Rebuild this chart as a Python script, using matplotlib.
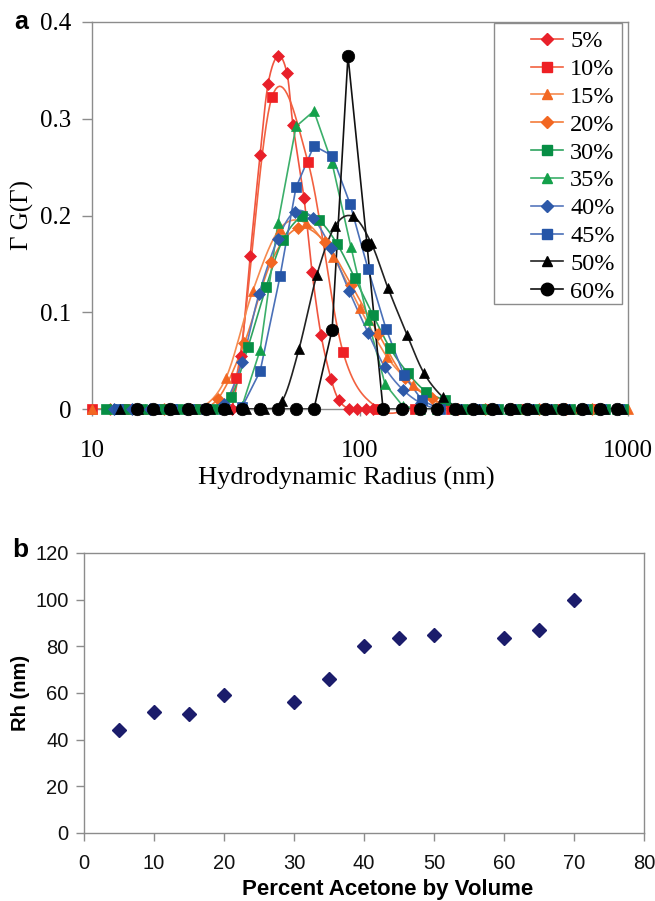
import numpy as np
import matplotlib
matplotlib.use("Agg")
import matplotlib.pyplot as plt
from matplotlib.lines import Line2D
from matplotlib.patches import Rectangle
from matplotlib.ticker import FixedLocator, NullLocator

# ---- panel a: size distributions, Gamma G(Gamma) vs hydrodynamic radius (nm)
labels_a = ['5%', '10%', '15%', '20%', '30%', '35%', '40%', '45%', '50%', '60%']

r5 = [33.3, 36.0, 38.9, 42.4, 45.4, 49.4, 53.4, 56.2, 61.8, 66.2, 71.5, 78.0, 83.5, 91.0, 97.5, 105.3, 111.8]
v5 = [0, 0.055, 0.158, 0.263, 0.336, 0.365, 0.347, 0.294, 0.218, 0.142, 0.077, 0.031, 0.009, 0, 0, 0, 0]

r10 = [10, 13.6, 18.6, 25.3, 34.5, 46.9, 64.0, 86.4, 117.7, 160.3, 218.6, 297.8, 405.5, 552.6, 753]
v10 = [0, 0, 0, 0, 0.032, 0.322, 0.255, 0.059, 0, 0, 0, 0, 0, 0, 0]

r15 = [10, 12.6, 15.8, 20.0, 25.1, 31.6, 39.8, 50.1, 63.1, 79.4, 100, 126, 158, 200, 251, 316, 398, 501, 631, 794, 1000]
v15 = [0, 0, 0, 0, 0, 0.032, 0.122, 0.186, 0.192, 0.157, 0.104, 0.054, 0.025, 0.005, 0, 0, 0, 0, 0, 0, 0]

r20 = [11.7, 14.7, 18.5, 23.3, 29.4, 37.0, 46.6, 58.6, 73.8, 92.9, 117, 147, 185, 233, 293, 369, 465, 585, 737, 928]
v20 = [0, 0, 0, 0, 0.010, 0.068, 0.152, 0.187, 0.173, 0.128, 0.078, 0.032, 0.011, 0, 0, 0, 0, 0, 0, 0]

r30 = [11.3, 13.2, 15.4, 17.9, 20.9, 24.3, 28.3, 33.0, 38.2, 44.6, 51.6, 60.8, 70.3, 82.0, 95.8, 111.8,
       129.4, 151.0, 176.3, 207.5, 242, 282, 328, 383, 446, 520, 606, 706, 823, 959]
v30 = [0, 0, 0, 0, 0, 0, 0, 0.012, 0.064, 0.126, 0.175, 0.199, 0.195, 0.171, 0.135, 0.097,
       0.063, 0.037, 0.018, 0.009, 0, 0, 0, 0, 0, 0, 0, 0, 0, 0]

r35 = [12.3, 14.3, 16.7, 19.5, 22.9, 26.6, 31.1, 36.3, 42.4, 49.4, 57.7, 67.3, 78.7, 92.6, 107.1,
       123.9, 144.5, 167.5, 194, 226, 264, 308, 360, 420, 490, 572, 669, 781, 911]
v35 = [0, 0, 0, 0, 0, 0, 0, 0.003, 0.061, 0.192, 0.292, 0.308, 0.254, 0.167, 0.092,
       0.026, 0.003, 0, 0, 0, 0, 0, 0, 0, 0, 0, 0, 0, 0]

r40 = [12.1, 14.1, 16.5, 19.3, 22.6, 26.6, 31.1, 36.3, 42.0, 49.4, 57.2, 66.8, 78.0, 91.0, 107.1,
       123.9, 144.5, 168.9, 197, 230, 268, 313, 365, 426, 497, 580, 677, 790, 922]
v40 = [0, 0, 0, 0, 0, 0, 0.005, 0.049, 0.119, 0.176, 0.204, 0.197, 0.166, 0.122, 0.079,
       0.043, 0.020, 0.006, 0, 0, 0, 0, 0, 0, 0, 0, 0, 0, 0]

r45 = [12.5, 14.6, 17.0, 19.8, 23.1, 26.6, 31.1, 36.3, 42.4, 50.3, 57.7, 67.3, 78.7, 91.8, 107.1,
       125.0, 145.9, 170.3, 198, 231, 270, 315, 367, 428, 500, 583, 680, 793, 925]
v45 = [0, 0, 0, 0, 0, 0, 0, 0.002, 0.039, 0.137, 0.229, 0.272, 0.262, 0.212, 0.145,
       0.083, 0.035, 0.009, 0, 0, 0, 0, 0, 0, 0, 0, 0, 0, 0]

r50 = [12.7, 14.8, 17.3, 20.2, 23.6, 27.6, 32.3, 37.6, 43.8, 51.2, 59.2, 69.1, 80.7, 94.2, 109.9,
       127.2, 149.7, 173.3, 204.1, 238.2, 278, 324, 378, 441, 514, 600, 700, 816, 952]
v50 = [0, 0, 0, 0, 0, 0, 0, 0, 0, 0.008, 0.062, 0.139, 0.189, 0.199, 0.172,
       0.125, 0.077, 0.037, 0.012, 0, 0, 0, 0, 0, 0, 0, 0, 0, 0]

r60 = [14.7, 16.9, 19.5, 22.9, 26.6, 31.1, 36.3, 42.4, 49.4, 57.7, 67.3, 78.7, 90.2, 106.2,
       121.9, 143.5, 167.5, 193.6, 226.1, 264.1, 310.8, 362.9, 419.8, 490.0, 572.3, 673.2, 786.3, 909.7]
v60 = [0, 0, 0, 0, 0, 0, 0, 0, 0, 0, 0, 0.082, 0.365, 0.170,
       0, 0, 0, 0, 0, 0, 0, 0, 0, 0, 0, 0, 0, 0]

# ---- panel b: Rh vs percent acetone
acetone = [5, 10, 15, 20, 30, 35, 40, 45, 50, 60, 65, 70]
rh = [44, 52, 51, 59, 56, 66, 80, 83.5, 85, 83.5, 87, 100]

radii = [r5, r10, r15, r20, r30, r35, r40, r45, r50, r60]
values = [v5, v10, v15, v20, v30, v35, v40, v45, v50, v60]
markers = ['D', 's', '^', 'D', 's', '^', 'D', 's', '^', 'o']
msizes = [6.2, 6.8, 7.8, 6.2, 6.8, 7.8, 6.2, 6.8, 7.8, 9.0]
mcolors = ['#E8202A', '#EE2024', '#F26722', '#F26722', '#078E45', '#13A04A',
           '#2D59A9', '#2555A7', '#000000', '#000000']
lcolors = ['#F0553F', '#F26140', '#F58A4F', '#F47B3A', '#2EA35F', '#3BAF6A',
           '#5677BC', '#4A70B8', '#222222', '#111111']
smoothed = [True, True, True, True, True, False, True, False, True, False]


def catmull(x, y, n=20):
    # Excel style smoothed line, done in log-x space
    p = np.column_stack([np.log10(x), y])
    p = np.vstack([p[0], p, p[-1]])
    out = []
    t = np.linspace(0, 1, n)[:, None]
    for i in range(1, len(p) - 2):
        p0, p1, p2, p3 = p[i - 1], p[i], p[i + 1], p[i + 2]
        m1 = (p2 - p0) / 2
        m2 = (p3 - p1) / 2
        h = ((2 * t**3 - 3 * t**2 + 1) * p1 + (t**3 - 2 * t**2 + t) * m1
             + (-2 * t**3 + 3 * t**2) * p2 + (t**3 - t**2) * m2)
        out.append(h)
    c = np.vstack(out)
    return 10 ** c[:, 0], c[:, 1]


serif = 'Liberation Serif'
sans = 'Liberation Sans'
W, H = 655, 901
fig = plt.figure(figsize=(W / 100, H / 100), dpi=100)

# panel a axes
ax = fig.add_axes([92 / W, 1 - 409 / H, (628 - 92) / W, (409 - 22) / H])
handles = []
for r, v, mk, ms, mc, lc, sm in zip(radii, values, markers, msizes, mcolors, lcolors, smoothed):
    if sm:
        xs, ys = catmull(r, v)
    else:
        xs, ys = r, v
    ax.plot(xs, ys, color=lc, lw=1.2, zorder=2, clip_on=False)
    ax.plot(r, v, ls='none', marker=mk, ms=ms, mfc=mc, mec=mc, mew=0.5, zorder=3, clip_on=False)
    handles.append(Line2D([], [], color=lc, lw=1.2, marker=mk, ms=ms, mfc=mc, mec=mc))

ax.set_xscale('log')
ax.set_xlim(10, 1000)
ax.set_ylim(0, 0.4)
ax.xaxis.set_major_locator(FixedLocator([10, 100, 1000]))
ax.xaxis.set_minor_locator(NullLocator())
ax.set_xticklabels(['10', '100', '1000'])
ax.set_yticks([0, 0.1, 0.2, 0.3, 0.4])
ax.set_yticklabels(['0', '0.1', '0.2', '0.3', '0.4'])
for s in ax.spines.values():
    s.set_color('#8c8c8c')
    s.set_linewidth(1.0)
ax.tick_params(axis='y', direction='out', length=7, width=1, color='#8c8c8c', pad=8,
               labelsize=18)
ax.tick_params(axis='x', direction='out', length=5, width=1, color='#8c8c8c', pad=17,
               labelsize=18)
for lab in ax.get_xticklabels() + ax.get_yticklabels():
    lab.set_fontfamily(serif)

fig.text(346 / W, 1 - 478 / H, 'Hydrodynamic Radius (nm)', family=serif, fontsize=19,
         ha='center', va='center')
fig.text(22 / W, 1 - 215 / H, 'Γ G(Γ)', family=serif, fontsize=18, rotation=90,
         ha='center', va='center')
fig.text(14 / W, 1 - 22 / H, 'a', family=sans, fontsize=18, fontweight='bold',
         ha='left', va='center')

leg = ax.legend(handles, labels_a, loc='upper left', bbox_to_anchor=(519 / W, 1 - 18 / H),
                bbox_transform=fig.transFigure, frameon=False, borderpad=0,
                handlelength=1.3, handletextpad=0.3, labelspacing=0.24,
                prop={'family': serif, 'size': 17.5})
fig.patches.append(Rectangle((494 / W, 1 - 304 / H), 128 / W, 281 / H, transform=fig.transFigure,
                             fill=False, ec='#8c8c8c', lw=1.0))

# panel b axes
bx = fig.add_axes([84 / W, 1 - 833 / H, (644 - 84) / W, (833 - 553) / H])
bx.plot(acetone, rh, ls='none', marker='D', ms=7, mfc='#1B1C6B', mec='#1B1C6B')
bx.set_xlim(0, 80)
bx.set_ylim(0, 120)
bx.set_xticks(range(0, 81, 10))
bx.set_yticks(range(0, 121, 20))
for s in bx.spines.values():
    s.set_color('#8c8c8c')
    s.set_linewidth(1.0)
bx.tick_params(axis='both', direction='out', length=6, width=1, color='#8c8c8c',
               labelsize=14.5, labelcolor='#111111')
bx.tick_params(axis='y', pad=5)
bx.tick_params(axis='x', pad=9)
for lab in bx.get_xticklabels() + bx.get_yticklabels():
    lab.set_fontfamily(sans)

fig.text(388 / W, 1 - 889 / H, 'Percent Acetone by Volume', family=sans, fontsize=16,
         fontweight='bold', ha='center', va='center')
fig.text(20 / W, 1 - 693 / H, 'Rh (nm)', family=sans, fontsize=14.5, fontweight='bold',
         rotation=90, ha='center', va='center')
fig.text(12 / W, 1 - 550 / H, 'b', family=sans, fontsize=19, fontweight='bold',
         ha='left', va='center')

fig.savefig('out.png', dpi=100)
